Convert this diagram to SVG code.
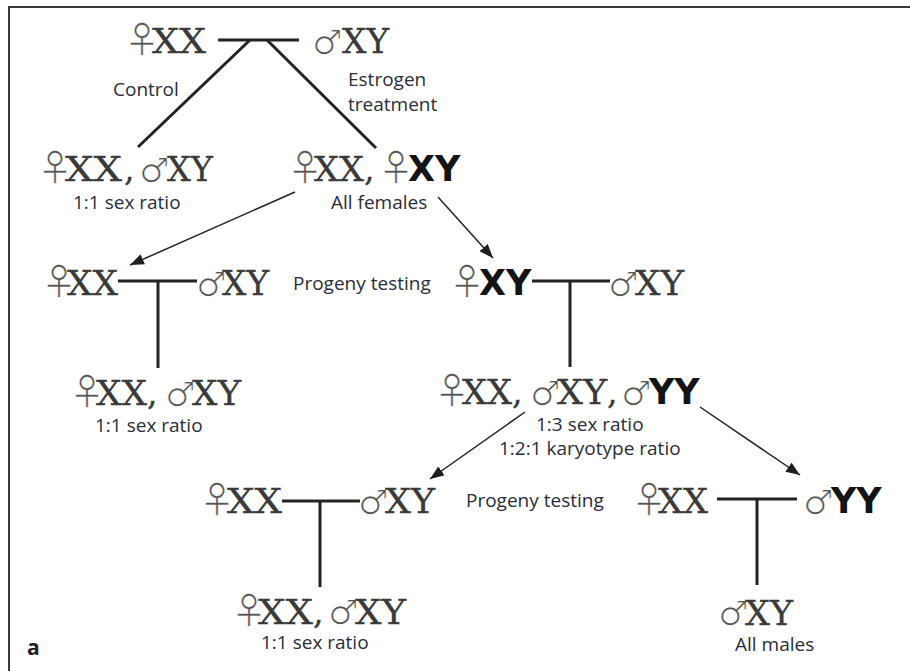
<svg xmlns="http://www.w3.org/2000/svg" width="910" height="671" viewBox="0 0 910 671">
  <defs>
    <style>
      .gt { font-family: "DejaVu Serif", "Liberation Serif", serif; font-size: 33px; fill: #3a3a3a; stroke: #3a3a3a; stroke-width: 0.3px; }
      .bd { font-family: "DejaVu Sans", "Liberation Sans", sans-serif; font-weight: bold; font-size: 35px; fill: #141414; stroke: none; }
      .fe { font-family: "Noto Sans CJK JP", "DejaVu Sans", sans-serif; font-size: 36px; fill: #555555; stroke: #ffffff; stroke-width: 0.6px; }
      .ma { font-family: "DejaVu Sans", sans-serif; font-size: 34px; fill: #555555; stroke: #ffffff; stroke-width: 1px; }
      .lb { font-family: "Open Sans", "Noto Sans", sans-serif; font-size: 19px; fill: #2a2d3a; }
      .tag { font-family: "Open Sans", "Noto Sans", sans-serif; font-size: 21px; font-weight: bold; fill: #1e1e28; }
      .ped { stroke: #232323; stroke-width: 3; fill: none; }
      .arr { stroke: #232323; stroke-width: 1.5; fill: none; marker-end: url(#head); }
      .frame { stroke: #3a3a3a; stroke-width: 2; fill: none; }
    </style>
    <marker id="head" markerUnits="userSpaceOnUse" markerWidth="14" markerHeight="11" refX="14" refY="5.5" orient="auto">
      <path d="M0,0 L14,5.5 L0,11 Z" fill="#1e1e1e"/>
    </marker>
  </defs>

  <rect width="910" height="671" fill="#ffffff"/>
  <path class="frame" d="M9,671 V7 H910"/>

  <!-- connectors -->
  <g id="connectors">
    <!-- parental cross -->
    <path class="ped" d="M218,40 H299"/>
    <path class="ped" d="M250,40 L138,147"/>
    <path class="ped" d="M267,40 L376,148"/>
    <!-- left progeny test -->
    <path class="ped" d="M118,281 H197 M158,281 V368"/>
    <!-- sex-reversed XY cross -->
    <path class="ped" d="M532,281 H610 M570,281 V367"/>
    <!-- XX x XY cross -->
    <path class="ped" d="M282,501 H360 M320,501 V587"/>
    <!-- XX x YY cross -->
    <path class="ped" d="M717,499 H797 M757,499 V585"/>
    <!-- arrows -->
    <path class="arr" d="M295,192 L130,265"/>
    <path class="arr" d="M438,197 L493,258"/>
    <path class="arr" d="M525,412 L430,479"/>
    <path class="arr" d="M700,407 L800,475"/>
  </g>

  <!-- parents -->
  <g id="p-female">
    <text class="gt" y="53"><tspan class="fe" x="124" letter-spacing="-9">♀</tspan><tspan x="152" textLength="54" lengthAdjust="spacingAndGlyphs">XX</tspan></text>
  </g>
  <g id="p-male">
    <text class="gt" y="53"><tspan class="ma" x="312" dy="1">♂</tspan><tspan x="342" dy="-1" textLength="47" lengthAdjust="spacingAndGlyphs">XY</tspan></text>
  </g>
  <g id="lbl-control"><text class="lb" x="113" y="96">Control</text></g>
  <g id="lbl-estrogen">
    <text class="lb" x="348" y="86">Estrogen</text>
    <text class="lb" x="348" y="111">treatment</text>
  </g>

  <!-- control offspring -->
  <g id="f1-control">
    <text class="gt" y="181"><tspan class="fe" x="37" letter-spacing="-9">♀</tspan><tspan x="65" textLength="57" lengthAdjust="spacingAndGlyphs">XX</tspan><tspan x="124">,</tspan><tspan class="ma" x="139" dy="1" letter-spacing="-1">♂</tspan><tspan x="167" dy="-1" textLength="46" lengthAdjust="spacingAndGlyphs">XY</tspan></text>
    <text class="lb" x="73" y="209">1:1 sex ratio</text>
  </g>

  <!-- estrogen-treated offspring -->
  <g id="f1-treated">
    <text class="gt" y="181"><tspan class="fe" x="287" letter-spacing="-10">♀</tspan><tspan x="314" textLength="50" lengthAdjust="spacingAndGlyphs">XX</tspan><tspan x="364">,</tspan><tspan class="fe" x="378" letter-spacing="-7">♀</tspan><tspan class="bd" x="408">XY</tspan></text>
    <text class="lb" x="331" y="209">All females</text>
  </g>

  <!-- progeny test of XX female -->
  <g id="test-xx-female">
    <text class="gt" y="295"><tspan class="fe" x="41" letter-spacing="-11">♀</tspan><tspan x="67" textLength="51" lengthAdjust="spacingAndGlyphs">XX</tspan></text>
  </g>
  <g id="test-xx-male">
    <text class="gt" y="295"><tspan class="ma" x="196" dy="1" letter-spacing="-4">♂</tspan><tspan x="222" dy="-1" textLength="47" lengthAdjust="spacingAndGlyphs">XY</tspan></text>
  </g>
  <g id="lbl-progeny-1"><text class="lb" x="293" y="290">Progeny testing</text></g>
  <g id="test-xx-offspring">
    <text class="gt" y="405"><tspan class="fe" x="69" letter-spacing="-10">♀</tspan><tspan x="96" textLength="51" lengthAdjust="spacingAndGlyphs">XX</tspan><tspan x="147">,</tspan><tspan class="ma" x="165" dy="1" letter-spacing="-3">♂</tspan><tspan x="192" dy="-1" textLength="49" lengthAdjust="spacingAndGlyphs">XY</tspan></text>
    <text class="lb" x="95" y="432">1:1 sex ratio</text>
  </g>

  <!-- progeny test of XY female -->
  <g id="test-xy-female">
    <text class="gt" y="295"><tspan class="fe" x="449" letter-spacing="-7">♀</tspan><tspan class="bd" x="479">XY</tspan></text>
  </g>
  <g id="test-xy-male">
    <text class="gt" y="295"><tspan class="ma" x="608" dy="1" letter-spacing="-3">♂</tspan><tspan x="635" dy="-1" textLength="49" lengthAdjust="spacingAndGlyphs">XY</tspan></text>
  </g>
  <g id="test-xy-offspring">
    <text class="gt" y="404"><tspan class="fe" x="434" letter-spacing="-9">♀</tspan><tspan x="462" textLength="50" lengthAdjust="spacingAndGlyphs">XX</tspan><tspan x="512">,</tspan><tspan class="ma" x="530" dy="1" letter-spacing="-3">♂</tspan><tspan x="557" dy="-1" textLength="50" lengthAdjust="spacingAndGlyphs">XY</tspan><tspan x="607">,</tspan><tspan class="ma" x="621" dy="1" letter-spacing="-2">♂</tspan><tspan class="bd" x="649" dy="-1">YY</tspan></text>
    <text class="lb" x="536" y="431">1:3 sex ratio</text>
    <text class="lb" x="499" y="455">1:2:1 karyotype ratio</text>
  </g>

  <!-- progeny test of XY male -->
  <g id="test2-xx-female">
    <text class="gt" y="513"><tspan class="fe" x="199" letter-spacing="-9">♀</tspan><tspan x="227" textLength="55" lengthAdjust="spacingAndGlyphs">XX</tspan></text>
  </g>
  <g id="test2-xy-male">
    <text class="gt" y="513"><tspan class="ma" x="358" dy="1" letter-spacing="-3">♂</tspan><tspan x="385" dy="-1" textLength="50" lengthAdjust="spacingAndGlyphs">XY</tspan></text>
  </g>
  <g id="lbl-progeny-2"><text class="lb" x="466" y="507">Progeny testing</text></g>
  <g id="test2-offspring">
    <text class="gt" y="624"><tspan class="fe" x="231" letter-spacing="-10">♀</tspan><tspan x="258" textLength="55" lengthAdjust="spacingAndGlyphs">XX</tspan><tspan x="313">,</tspan><tspan class="ma" x="328" letter-spacing="-3">♂</tspan><tspan x="355" textLength="51" lengthAdjust="spacingAndGlyphs">XY</tspan></text>
    <text class="lb" x="261" y="649">1:1 sex ratio</text>
  </g>

  <!-- progeny test of YY male -->
  <g id="test3-xx-female">
    <text class="gt" y="513"><tspan class="fe" x="631" letter-spacing="-10">♀</tspan><tspan x="658" textLength="50" lengthAdjust="spacingAndGlyphs">XX</tspan></text>
  </g>
  <g id="test3-yy-male">
    <text class="gt" y="513"><tspan class="ma" x="803" dy="1" letter-spacing="-2">♂</tspan><tspan class="bd" x="831" dy="-1">YY</tspan></text>
  </g>
  <g id="test3-offspring">
    <text class="gt" y="625"><tspan class="ma" x="718" letter-spacing="-3">♂</tspan><tspan x="745" textLength="48" lengthAdjust="spacingAndGlyphs">XY</tspan></text>
    <text class="lb" x="735" y="651">All males</text>
  </g>

  <g id="panel-tag"><text class="tag" x="27" y="655">a</text></g>
</svg>
